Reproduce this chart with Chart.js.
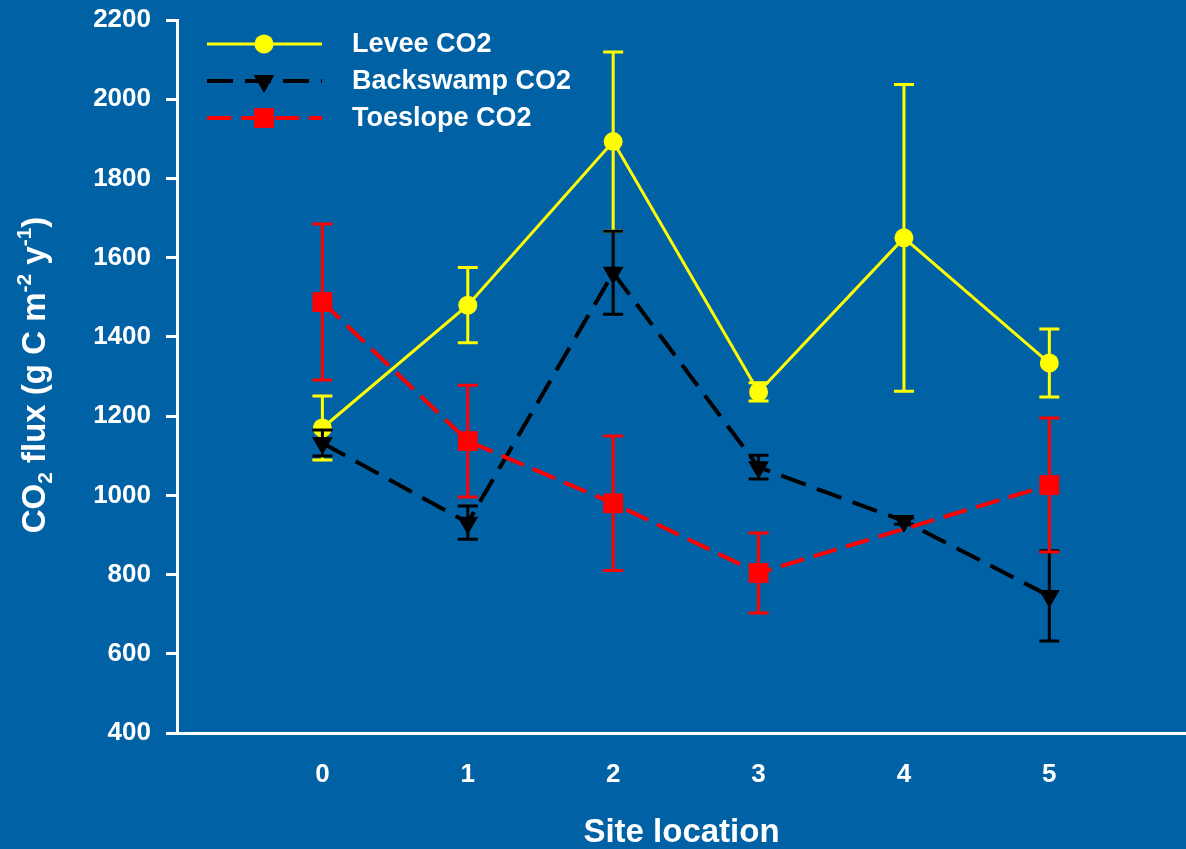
<!DOCTYPE html>
<html>
<head>
<meta charset="utf-8">
<title>CO2 flux by site location</title>
<script src="https://cdn.jsdelivr.net/npm/chart.js"></script>
<style>
  html, body { margin: 0; padding: 0; background: #0061a4; overflow: hidden; }
  canvas { display: block; }
</style>
</head>
<body>
<canvas id="flux-chart" width="1186" height="849"></canvas>
<script>
// DATA
const sites = [0, 1, 2, 3, 4, 5];
const yTicks = [400, 600, 800, 1000, 1200, 1400, 1600, 1800, 2000, 2200];

const leveeMean = [1170, 1480, 1893, 1261, 1650, 1334];
const leveeErr = [81, 95, 226, 23, 387, 86];

const backswampMean = [1132, 931, 1562, 1071, 935, 746];
const backswampErr = [33, 42, 105, 30, 8, 114];

const toeslopeMean = [1488, 1137, 980, 804, null, 1026];
const toeslopeErr = [197, 141, 170, 101, null, 169];

const bg = "#0061a4";
const fontFamily = "'Liberation Sans', Arial, sans-serif";

function points(means) {
  return sites.map(function (s, i) {
    return { x: s, y: means[i] };
  });
}

// background fill
const background = {
  id: "background",
  beforeDraw(chart) {
    const ctx = chart.ctx;
    ctx.save();
    ctx.fillStyle = bg;
    ctx.fillRect(0, 0, chart.width, chart.height);
    ctx.restore();
  }
};

// error bars, drawn just before each dataset so layering follows the lines
const errorBars = {
  id: "errorBars",
  beforeDatasetDraw(chart, args) {
    const ds = chart.data.datasets[args.index];
    if (!ds.errors) return;
    const xs = chart.scales.x, ys = chart.scales.y;
    const ctx = chart.ctx;
    ctx.save();
    ctx.strokeStyle = ds.borderColor;
    ctx.lineWidth = 3;
    ctx.setLineDash([]);
    sites.forEach(function (s, i) {
      const m = ds.data[i].y, e = ds.errors[i];
      if (m == null || e == null) return;
      const x = xs.getPixelForValue(s);
      const top = ys.getPixelForValue(m + e);
      const bot = ys.getPixelForValue(m - e);
      ctx.beginPath();
      ctx.moveTo(x, top); ctx.lineTo(x, bot);
      ctx.moveTo(x - 10, top); ctx.lineTo(x + 10, top);
      ctx.moveTo(x - 10, bot); ctx.lineTo(x + 10, bot);
      ctx.stroke();
    });
    ctx.restore();
  }
};

function marker(ctx, style, r, x, y) {
  ctx.beginPath();
  if (style === "circle") {
    ctx.arc(x, y, r, 0, Math.PI * 2);
  } else if (style === "rect") {
    const h = r * Math.SQRT1_2;
    ctx.rect(x - h, y - h, 2 * h, 2 * h);
  } else {
    // downward triangle
    ctx.moveTo(x, y + r);
    ctx.lineTo(x - r * 0.866, y - r / 2);
    ctx.lineTo(x + r * 0.866, y - r / 2);
    ctx.closePath();
  }
  ctx.fill();
}

// legend: long sample line with marker in the middle
const sampleLegend = {
  id: "sampleLegend",
  afterDraw(chart) {
    const ctx = chart.ctx;
    ctx.save();
    chart.data.datasets.forEach(function (ds, i) {
      const y = 44 + i * 37;
      ctx.strokeStyle = ds.borderColor;
      ctx.lineWidth = ds.borderWidth;
      ctx.setLineDash(ds.borderDash || []);
      ctx.beginPath();
      ctx.moveTo(207, y);
      ctx.lineTo(322, y);
      ctx.stroke();
      ctx.setLineDash([]);
      ctx.fillStyle = ds.borderColor;
      marker(ctx, ds.pointStyle, ds.pointRadius, 264, y);
      ctx.fillStyle = "#ffffff";
      ctx.font = "bold 27px " + fontFamily;
      ctx.textAlign = "left";
      ctx.textBaseline = "middle";
      ctx.fillText(ds.label, 352, y + 1);
    });
    ctx.restore();
  }
};

// y axis title with subscript and superscripts
const yTitle = {
  id: "yTitle",
  afterDraw(chart) {
    const ctx = chart.ctx;
    const parts = [
      ["CO", 0], ["2", 1], [" flux (g C m", 0], ["-2", -1],
      [" y", 0], ["-1", -1], [")", 0]
    ];
    const big = "bold 33px " + fontFamily;
    const small = "bold 21px " + fontFamily;
    ctx.save();
    ctx.fillStyle = "#ffffff";
    ctx.textBaseline = "alphabetic";
    ctx.textAlign = "left";
    let total = 0;
    parts.forEach(function (p) {
      ctx.font = p[1] === 0 ? big : small;
      total += ctx.measureText(p[0]).width;
    });
    ctx.translate(45, 375);
    ctx.rotate(-Math.PI / 2);
    let x = -total / 2;
    parts.forEach(function (p) {
      ctx.font = p[1] === 0 ? big : small;
      const dy = p[1] === 1 ? 7 : (p[1] === -1 ? -14 : 0);
      ctx.fillText(p[0], x, dy);
      x += ctx.measureText(p[0]).width;
    });
    ctx.restore();
  }
};

const data = {
  datasets: [
    {
      label: "Levee CO2",
      data: points(leveeMean),
      errors: leveeErr,
      borderColor: "#ffff00",
      backgroundColor: "#ffff00",
      borderWidth: 3,
      pointStyle: "circle",
      pointRadius: 9.5,
      pointBorderWidth: 0,
      order: 3
    },
    {
      label: "Backswamp CO2",
      data: points(backswampMean),
      errors: backswampErr,
      borderColor: "#000000",
      backgroundColor: "#000000",
      borderWidth: 4,
      borderDash: [26, 12],
      pointStyle: "triangle",
      rotation: 180,
      pointRadius: 12,
      pointBorderWidth: 0,
      order: 2
    },
    {
      label: "Toeslope CO2",
      data: points(toeslopeMean),
      errors: toeslopeErr,
      borderColor: "#ff0000",
      backgroundColor: "#ff0000",
      borderWidth: 4,
      borderDash: [24, 10],
      pointStyle: "rect",
      pointRadius: 14,
      pointBorderWidth: 0,
      spanGaps: true,
      order: 1
    }
  ]
};

const config = {
  type: "line",
  data,
  options: {
    responsive: false,
    animation: false,
    layout: {
      autoPadding: false,
      padding: { top: 20, right: 0, bottom: 0, left: 0 }
    },
    plugins: {
      legend: { display: false },
      tooltip: { enabled: false }
    },
    elements: { line: { tension: 0 } },
    scales: {
      x: {
        type: "linear",
        min: -1,
        max: 5.94,
        afterBuildTicks(scale) {
          scale.ticks = sites.map(function (v) { return { value: v }; });
        },
        afterFit(scale) {
          scale.height = 116;
          scale.paddingLeft = 0;
          scale.paddingRight = 0;
        },
        grid: { display: false, drawTicks: false },
        border: { display: true, color: "#ffffff", width: 3 },
        ticks: {
          color: "#ffffff",
          padding: 26,
          font: { family: fontFamily, size: 26, weight: "bold" },
          callback: function (v) { return String(v); }
        },
        title: {
          display: true,
          text: "Site location",
          color: "#ffffff",
          padding: 0,
          font: { family: fontFamily, size: 33, weight: "bold", lineHeight: 1 }
        }
      },
      y: {
        min: 400,
        max: 2200,
        afterBuildTicks(scale) {
          scale.ticks = yTicks.map(function (v) { return { value: v }; });
        },
        afterFit(scale) {
          scale.width = 177;
          scale.paddingTop = 0;
          scale.paddingBottom = 0;
        },
        grid: {
          display: true,
          drawOnChartArea: false,
          drawTicks: true,
          tickLength: 11,
          tickWidth: 3,
          tickColor: "#ffffff"
        },
        border: { display: true, color: "#ffffff", width: 3 },
        ticks: {
          color: "#ffffff",
          padding: 15,
          font: { family: fontFamily, size: 26, weight: "bold" },
          callback: function (v) { return String(v); }
        }
      }
    }
  },
  plugins: [background, errorBars, sampleLegend, yTitle]
};

const fluxChart = new Chart(document.getElementById("flux-chart"), config);
</script>
</body>
</html>
